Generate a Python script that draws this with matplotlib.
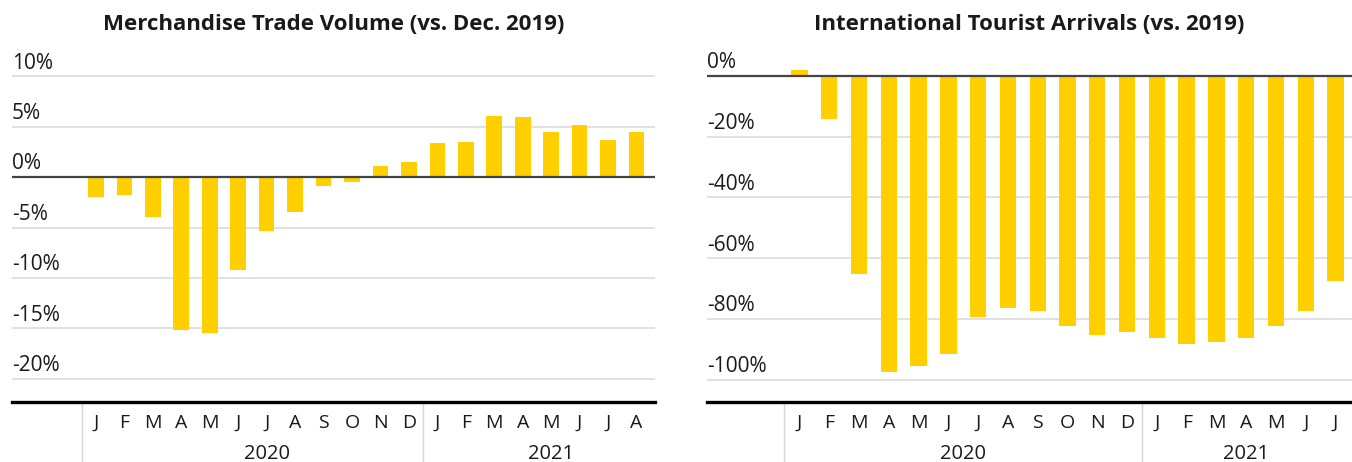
import matplotlib
matplotlib.use('Agg')
import matplotlib.pyplot as plt
import matplotlib.transforms as mtransforms

plt.rcParams['font.family'] = ['Open Sans', 'DejaVu Sans']

# data
months_trade = ['J', 'F', 'M', 'A', 'M', 'J', 'J', 'A', 'S', 'O', 'N', 'D',
                'J', 'F', 'M', 'A', 'M', 'J', 'J', 'A']
trade_volume = [-2.0, -1.8, -4.0, -15.2, -15.5, -9.2, -5.3, -3.5, -0.9, -0.5,
                1.1, 1.5, 3.4, 3.5, 6.1, 6.0, 4.5, 5.2, 3.7, 4.5]
trade_ticks = [10, 5, 0, -5, -10, -15, -20]

months_tourism = ['J', 'F', 'M', 'A', 'M', 'J', 'J', 'A', 'S', 'O', 'N', 'D',
                  'J', 'F', 'M', 'A', 'M', 'J', 'J']
tourist_arrivals = [2.0, -14.2, -65.3, -97.6, -95.6, -91.6, -79.5, -76.5, -77.5,
                    -82.4, -85.4, -84.4, -86.4, -88.4, -87.7, -86.4, -82.4, -77.5, -67.6]
tourism_ticks = [0, -20, -40, -60, -80, -100]

years = ['2020', '2021']

BAR = '#FFCF00'
GRID = '#dcdcdc'
TXT = '#1a1a1a'

W, H = 1352, 462
fig = plt.figure(figsize=(W / 100, H / 100), dpi=100)


def panel(rect, title, months, values, ticks, ylim, xlim, year_pos):
    ax = fig.add_axes(rect)
    x = list(range(len(values)))
    for t in ticks:
        if t == 0:
            continue
        ax.axhline(t, color=GRID, lw=1.2, zorder=0)
    ax.bar(x, values, width=0.55, color=BAR, zorder=2)
    ax.axhline(0, color='#444444', lw=1.6, zorder=3)
    ax.set_xlim(*xlim)
    ax.set_ylim(*ylim)
    for s in ['top', 'left', 'right']:
        ax.spines[s].set_visible(False)
    ax.spines['bottom'].set_linewidth(2.4)
    ax.spines['bottom'].set_color('black')
    ax.set_yticks([])
    ax.set_xticks(x)
    ax.set_xticklabels(months, fontsize=14, color=TXT)
    ax.tick_params(axis='x', length=0, pad=8.5)
    for t in ticks:
        ax.annotate('%d%%' % t, xy=(0, t), xycoords=('axes fraction', 'data'),
                    xytext=(0, 5.5), textcoords='offset points',
                    ha='left', va='baseline', fontsize=15, color=TXT)
    # separators below the axis
    trans = mtransforms.blended_transform_factory(ax.transData, ax.transAxes)
    for sx in [-0.5, 11.5]:
        ax.plot([sx, sx], [0, -0.2], transform=trans, color='#d6d6d6', lw=1,
                clip_on=False)
    for yp, label in zip(year_pos, years):
        ax.annotate(label, xy=(yp, 0), xycoords=trans, xytext=(0, -37.5),
                    textcoords='offset points', ha='center', va='center',
                    fontsize=14.5, color=TXT)
    pos = ax.get_position()
    fig.text((pos.x0 + pos.x1) / 2, 1 - 25 / H, title, ha='center', va='center',
             fontsize=16, fontweight='bold', color=TXT)
    return ax


bottom = 60 / H
height = 352 / H
panel([12 / W, bottom, 643 / W, height],
      'Merchandise Trade Volume (vs. Dec. 2019)',
      months_trade, trade_volume, trade_ticks,
      (-22.3, 12.6), (-2.95, 19.65), [6.0, 16.0])
panel([707 / W, bottom, 645 / W, height],
      'International Tourist Arrivals (vs. 2019)',
      months_tourism, tourist_arrivals, tourism_ticks,
      (-107.4, 8.6), (-3.1, 18.55), [5.5, 15.0])

fig.savefig('out.png', dpi=100)
